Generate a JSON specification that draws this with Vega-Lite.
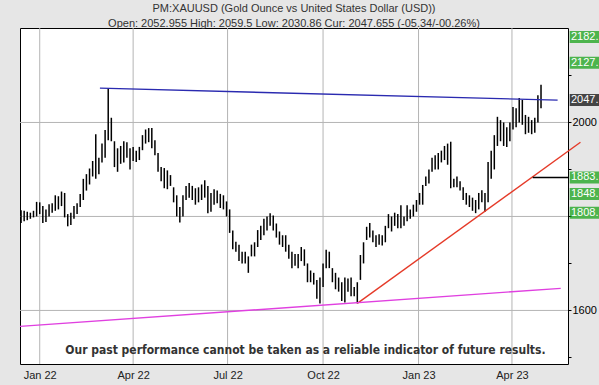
{
  "$schema": "https://vega.github.io/schema/vega-lite/v6.json",
  "width": 548,
  "height": 336,
  "autosize": "none",
  "padding": {"left": 20, "top": 28, "right": 31, "bottom": 21},
  "background": "#e6e6e6",
  "view": {"fill": "white", "stroke": "black", "strokeWidth": 1},
  "config": {"font": "Liberation Sans"},
  "title": {
    "text": "PM:XAUUSD (Gold Ounce vs United States Dollar (USD))",
    "subtitle": "Open: 2052.955 High: 2059.5 Low: 2030.86 Cur: 2047.655 (-05.34/-00.26%)",
    "anchor": "middle",
    "fontSize": 11,
    "fontWeight": "normal",
    "color": "#333333",
    "subtitleFontSize": 11,
    "subtitleColor": "#333333",
    "subtitlePadding": 4,
    "offset": -1
  },
  "resolve": {"scale": {"color": "independent"}},
  "datasets": {
    "bars": [
      {"d":"2021-12-14","l":1786,"h":1813},{"d":"2021-12-17","l":1790,"h":1812},{"d":"2021-12-20","l":1792,"h":1810},
      {"d":"2021-12-23","l":1795,"h":1808},{"d":"2021-12-26","l":1798,"h":1812},{"d":"2021-12-29","l":1800,"h":1831},
      {"d":"2022-01-01","l":1805,"h":1830},{"d":"2022-01-04","l":1786,"h":1822},{"d":"2022-01-07","l":1788,"h":1815},
      {"d":"2022-01-10","l":1800,"h":1826},{"d":"2022-01-13","l":1808,"h":1828},{"d":"2022-01-16","l":1812,"h":1845},
      {"d":"2022-01-19","l":1815,"h":1843},{"d":"2022-01-22","l":1822,"h":1853},{"d":"2022-01-25","l":1798,"h":1850},
      {"d":"2022-01-28","l":1779,"h":1805},{"d":"2022-01-31","l":1782,"h":1808},{"d":"2022-02-03","l":1795,"h":1822},
      {"d":"2022-02-06","l":1805,"h":1828},{"d":"2022-02-09","l":1820,"h":1848},{"d":"2022-02-12","l":1835,"h":1880},
      {"d":"2022-02-15","l":1855,"h":1890},{"d":"2022-02-18","l":1868,"h":1902},{"d":"2022-02-21","l":1885,"h":1918},
      {"d":"2022-02-24","l":1880,"h":1975},{"d":"2022-02-27","l":1890,"h":1925},{"d":"2022-03-02","l":1915,"h":1955},
      {"d":"2022-03-05","l":1925,"h":1984},{"d":"2022-03-08","l":1962,"h":2072},{"d":"2022-03-11","l":1960,"h":2010},
      {"d":"2022-03-14","l":1905,"h":1960},{"d":"2022-03-17","l":1895,"h":1945},{"d":"2022-03-20","l":1912,"h":1950},
      {"d":"2022-03-23","l":1915,"h":1960},{"d":"2022-03-26","l":1925,"h":1958},{"d":"2022-03-29","l":1900,"h":1945},
      {"d":"2022-04-01","l":1918,"h":1948},{"d":"2022-04-04","l":1916,"h":1940},{"d":"2022-04-07","l":1920,"h":1948},
      {"d":"2022-04-10","l":1941,"h":1973},{"d":"2022-04-13","l":1955,"h":1985},{"d":"2022-04-16","l":1958,"h":1988},
      {"d":"2022-04-19","l":1945,"h":1988},{"d":"2022-04-22","l":1930,"h":1962},{"d":"2022-04-25","l":1895,"h":1935},
      {"d":"2022-04-28","l":1875,"h":1905},{"d":"2022-05-01","l":1860,"h":1903},{"d":"2022-05-04","l":1858,"h":1898},
      {"d":"2022-05-07","l":1865,"h":1888},{"d":"2022-05-10","l":1830,"h":1862},{"d":"2022-05-13","l":1800,"h":1845},
      {"d":"2022-05-16","l":1787,"h":1820},{"d":"2022-05-19","l":1800,"h":1845},{"d":"2022-05-22","l":1835,"h":1865},
      {"d":"2022-05-25","l":1840,"h":1871},{"d":"2022-05-28","l":1835,"h":1865},{"d":"2022-05-31","l":1825,"h":1860},
      {"d":"2022-06-03","l":1830,"h":1862},{"d":"2022-06-06","l":1835,"h":1868},{"d":"2022-06-09","l":1840,"h":1877},
      {"d":"2022-06-12","l":1807,"h":1865},{"d":"2022-06-15","l":1810,"h":1850},{"d":"2022-06-18","l":1825,"h":1858},
      {"d":"2022-06-21","l":1828,"h":1855},{"d":"2022-06-24","l":1818,"h":1848},{"d":"2022-06-27","l":1815,"h":1845},
      {"d":"2022-06-30","l":1800,"h":1832},{"d":"2022-07-03","l":1765,"h":1815},{"d":"2022-07-06","l":1730,"h":1770},
      {"d":"2022-07-09","l":1725,"h":1746},{"d":"2022-07-12","l":1705,"h":1740},{"d":"2022-07-15","l":1700,"h":1725},
      {"d":"2022-07-18","l":1700,"h":1725},{"d":"2022-07-21","l":1680,"h":1715},{"d":"2022-07-24","l":1715,"h":1740},
      {"d":"2022-07-27","l":1715,"h":1745},{"d":"2022-07-30","l":1735,"h":1771},{"d":"2022-08-02","l":1750,"h":1780},
      {"d":"2022-08-05","l":1760,"h":1795},{"d":"2022-08-08","l":1770,"h":1800},{"d":"2022-08-11","l":1780,"h":1807},
      {"d":"2022-08-14","l":1770,"h":1802},{"d":"2022-08-17","l":1755,"h":1785},{"d":"2022-08-20","l":1740,"h":1768},
      {"d":"2022-08-23","l":1735,"h":1760},{"d":"2022-08-26","l":1725,"h":1760},{"d":"2022-08-29","l":1710,"h":1740},
      {"d":"2022-09-01","l":1690,"h":1725},{"d":"2022-09-04","l":1695,"h":1720},{"d":"2022-09-07","l":1690,"h":1720},
      {"d":"2022-09-10","l":1705,"h":1735},{"d":"2022-09-13","l":1695,"h":1730},{"d":"2022-09-16","l":1660,"h":1700},
      {"d":"2022-09-19","l":1660,"h":1685},{"d":"2022-09-22","l":1655,"h":1680},{"d":"2022-09-25","l":1625,"h":1665},
      {"d":"2022-09-28","l":1615,"h":1670},{"d":"2022-10-01","l":1650,"h":1700},{"d":"2022-10-04","l":1690,"h":1729},
      {"d":"2022-10-07","l":1690,"h":1725},{"d":"2022-10-10","l":1660,"h":1690},{"d":"2022-10-13","l":1645,"h":1680},
      {"d":"2022-10-16","l":1640,"h":1670},{"d":"2022-10-19","l":1620,"h":1660},{"d":"2022-10-22","l":1617,"h":1670},
      {"d":"2022-10-25","l":1640,"h":1668},{"d":"2022-10-28","l":1630,"h":1670},{"d":"2022-10-31","l":1630,"h":1650},
      {"d":"2022-11-03","l":1615,"h":1660},{"d":"2022-11-06","l":1665,"h":1718},{"d":"2022-11-09","l":1700,"h":1745},
      {"d":"2022-11-12","l":1750,"h":1778},{"d":"2022-11-15","l":1755,"h":1786},{"d":"2022-11-18","l":1745,"h":1770},
      {"d":"2022-11-21","l":1735,"h":1760},{"d":"2022-11-24","l":1740,"h":1762},{"d":"2022-11-27","l":1738,"h":1760},
      {"d":"2022-11-30","l":1745,"h":1780},{"d":"2022-12-03","l":1775,"h":1805},{"d":"2022-12-06","l":1768,"h":1800},
      {"d":"2022-12-09","l":1780,"h":1808},{"d":"2022-12-12","l":1775,"h":1805},{"d":"2022-12-15","l":1775,"h":1824},
      {"d":"2022-12-18","l":1780,"h":1800},{"d":"2022-12-21","l":1790,"h":1824},{"d":"2022-12-24","l":1795,"h":1815},
      {"d":"2022-12-27","l":1800,"h":1825},{"d":"2022-12-30","l":1810,"h":1835},{"d":"2023-01-02","l":1825,"h":1850},
      {"d":"2023-01-05","l":1825,"h":1867},{"d":"2023-01-08","l":1865,"h":1885},{"d":"2023-01-11","l":1870,"h":1900},
      {"d":"2023-01-14","l":1895,"h":1925},{"d":"2023-01-17","l":1900,"h":1930},{"d":"2023-01-20","l":1900,"h":1935},
      {"d":"2023-01-23","l":1915,"h":1940},{"d":"2023-01-26","l":1920,"h":1950},{"d":"2023-01-29","l":1910,"h":1955},
      {"d":"2023-02-01","l":1860,"h":1959},{"d":"2023-02-04","l":1862,"h":1880},{"d":"2023-02-07","l":1862,"h":1885},
      {"d":"2023-02-10","l":1855,"h":1875},{"d":"2023-02-13","l":1835,"h":1862},{"d":"2023-02-16","l":1825,"h":1850},
      {"d":"2023-02-19","l":1820,"h":1845},{"d":"2023-02-22","l":1812,"h":1840},{"d":"2023-02-25","l":1807,"h":1835},
      {"d":"2023-02-28","l":1815,"h":1850},{"d":"2023-03-03","l":1830,"h":1856},{"d":"2023-03-06","l":1810,"h":1850},
      {"d":"2023-03-09","l":1830,"h":1916},{"d":"2023-03-12","l":1880,"h":1940},{"d":"2023-03-15","l":1900,"h":1973},
      {"d":"2023-03-18","l":1950,"h":2012},{"d":"2023-03-21","l":1960,"h":2005},{"d":"2023-03-24","l":1950,"h":2000},
      {"d":"2023-03-27","l":1948,"h":1990},{"d":"2023-03-30","l":1960,"h":2000},{"d":"2023-04-02","l":1985,"h":2033},
      {"d":"2023-04-05","l":1990,"h":2030},{"d":"2023-04-08","l":2000,"h":2052},{"d":"2023-04-11","l":1995,"h":2048},
      {"d":"2023-04-14","l":1975,"h":2016},{"d":"2023-04-17","l":1978,"h":2012},{"d":"2023-04-20","l":1975,"h":2005},
      {"d":"2023-04-23","l":1978,"h":2010},{"d":"2023-04-26","l":2000,"h":2058},{"d":"2023-04-29","l":2030,"h":2080}
    ],
    "lines": [
      {"n":"res","d":"2022-02-28","v":2073},{"n":"res","d":"2023-05-15","v":2047.5},
      {"n":"sup","d":"2022-11-03","v":1615},{"n":"sup","d":"2023-06-06","v":1958},
      {"n":"low","d":"2021-12-13","v":1566},{"n":"low","d":"2023-05-18","v":1647},
      {"n":"lvl","d":"2023-04-21","v":1883},{"n":"lvl","d":"2023-05-25","v":1883}
    ],
    "levels": [
      {"v":2182,"t":"2182.","k":"g"},{"v":2127,"t":"2127.","k":"g"},{"v":2047.655,"t":"2047.","k":"b"},
      {"v":1883,"t":"1883.","k":"g"},{"v":1848,"t":"1848.","k":"g"},{"v":1808,"t":"1808.","k":"g"}
    ],
    "vgrid": [
      {"g":"2022-01-01"},{"g":"2022-04-01"},{"g":"2022-07-01"},{"g":"2022-10-01"},{"g":"2023-01-01"},{"g":"2023-04-01"}
    ],
    "hgrid": [{"g":1600},{"g":1800},{"g":2000}]
  },
  "layer": [
    {
      "data": {"name": "vgrid"},
      "mark": {"type": "rule", "color": "#b4b4b4", "strokeWidth": 1},
      "encoding": {
        "x": {
          "field": "g", "type": "temporal", "title": null,
          "scale": {"type": "utc", "domain": [{"year": 2021, "month": 12, "date": 13, "utc": true}, {"year": 2023, "month": 5, "date": 25, "utc": true}]},
          "axis": {
            "values": [
              {"year": 2022, "month": 1, "date": 1, "utc": true},
              {"year": 2022, "month": 4, "date": 1, "utc": true},
              {"year": 2022, "month": 7, "date": 1, "utc": true},
              {"year": 2022, "month": 10, "date": 1, "utc": true},
              {"year": 2023, "month": 1, "date": 1, "utc": true},
              {"year": 2023, "month": 4, "date": 1, "utc": true}
            ],
            "labelExpr": "utcFormat(datum.value, '%b %y')",
            "grid": false, "ticks": false, "domain": false,
            "labelFontSize": 11, "labelColor": "#222222", "labelPadding": 5, "labelFlush": false
          }
        }
      }
    },
    {
      "data": {"name": "hgrid"},
      "mark": {"type": "rule", "color": "#b4b4b4", "strokeWidth": 1},
      "encoding": {
        "y": {
          "field": "g", "type": "quantitative", "title": null,
          "scale": {"domain": [1486, 2201], "nice": false, "zero": false},
          "axis": {
            "orient": "right",
            "values": [1500, 1600, 1700, 1800, 1900, 2000, 2100],
            "format": "d",
            "labelExpr": "datum.value == 1600 || datum.value == 2000 ? datum.label : ''",
            "grid": false,
            "tickSize": 3, "tickColor": "black", "domain": false,
            "labelFontSize": 11, "labelColor": "black", "labelPadding": 1
          }
        }
      }
    },
    {
      "data": {"name": "bars"},
      "mark": {"type": "rule", "color": "black", "strokeWidth": 1.5},
      "encoding": {
        "x": {"field": "d", "type": "temporal"},
        "y": {"field": "l", "type": "quantitative"},
        "y2": {"field": "h"}
      }
    },
    {
      "data": {"name": "lines"},
      "mark": {"type": "line", "strokeWidth": 1.4, "clip": false},
      "encoding": {
        "x": {"field": "d", "type": "temporal"},
        "y": {"field": "v", "type": "quantitative"},
        "color": {"field": "n", "type": "nominal", "legend": null,
          "scale": {"domain": ["res", "sup", "low", "lvl"], "range": ["#2a2ab0", "#e53a28", "#e040e0", "#000000"]}}
      }
    },
    {
      "data": {"name": "levels"},
      "mark": {"type": "tick", "orient": "horizontal", "thickness": 12, "size": 36, "clip": false},
      "encoding": {
        "x": {"datum": {"year": 2023, "month": 6, "date": 13, "utc": true}, "type": "temporal"},
        "y": {"field": "v", "type": "quantitative"},
        "fill": {"field": "k", "type": "nominal", "legend": null,
          "scale": {"domain": ["g", "b"], "range": ["#0c9e0c", "#000000"]}}
      }
    },
    {
      "data": {"name": "levels"},
      "mark": {"type": "text", "align": "left", "baseline": "middle", "dx": 3, "color": "white", "fontSize": 11, "clip": false},
      "encoding": {
        "x": {"datum": {"year": 2023, "month": 5, "date": 25, "utc": true}, "type": "temporal"},
        "y": {"field": "v", "type": "quantitative"},
        "text": {"field": "t"}
      }
    },
    {
      "data": {"values": [{"t": "Our past performance cannot be taken as a reliable indicator of future results."}]},
      "mark": {"type": "text", "align": "center", "baseline": "middle", "font": "DejaVu Sans Condensed", "fontWeight": "bold", "fontSize": 12, "color": "#333333"},
      "encoding": {
        "x": {"datum": {"year": 2022, "month": 9, "date": 14, "utc": true}, "type": "temporal"},
        "y": {"datum": 1516, "type": "quantitative"},
        "text": {"field": "t"}
      }
    }
  ]
}
